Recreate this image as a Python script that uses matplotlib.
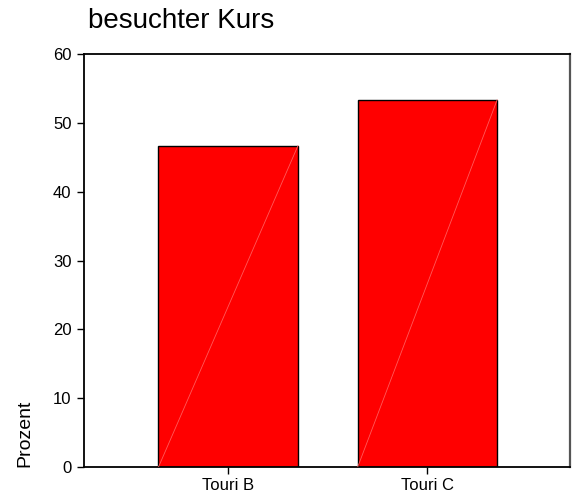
import numpy as np
import matplotlib.pyplot as plt

plt.rcParams['font.family'] = ['Liberation Sans', 'DejaVu Sans']

kurse = ["Touri B", "Touri C"]
prozent = [46.67, 53.33]

fig = plt.figure(figsize=(5.73, 4.92), dpi=100)
ax = fig.add_axes([0.1466, 0.0508, 0.8482, 0.8394])

x = np.arange(len(kurse))
breite = 0.70
ax.bar(x, prozent, width=breite, color="#ff0000", edgecolor="black", linewidth=1.0, zorder=2)

# faint diagonal in each bar, like the original export
for xi, p in zip(x, prozent):
    ax.plot([xi - breite / 2, xi + breite / 2], [0, p], color="#ff5a5a", linewidth=0.6, zorder=3)

ax.set_xlim(-0.724, 1.716)
ax.set_ylim(0, 60)
ax.set_yticks(np.arange(0, 61, 10))
ax.set_xticks(x)
ax.set_xticklabels(kurse)
ax.tick_params(axis="both", labelsize=12, length=5, width=1, direction="out", pad=3)
ax.tick_params(axis="y", pad=4)

for s in ["left", "bottom", "top"]:
    ax.spines[s].set_linewidth(1.3)
    ax.spines[s].set_color("black")
ax.spines["right"].set_linewidth(1.6)
ax.spines["right"].set_color("#555555")

fig.text(88 / 573, 1 - 21 / 492, "besuchter Kurs", fontsize=20, ha="left", va="center")
fig.text(25 / 573, 25 / 492, "Prozent", fontsize=14, rotation=90, ha="center", va="bottom")

fig.savefig("out.png", dpi=100)
